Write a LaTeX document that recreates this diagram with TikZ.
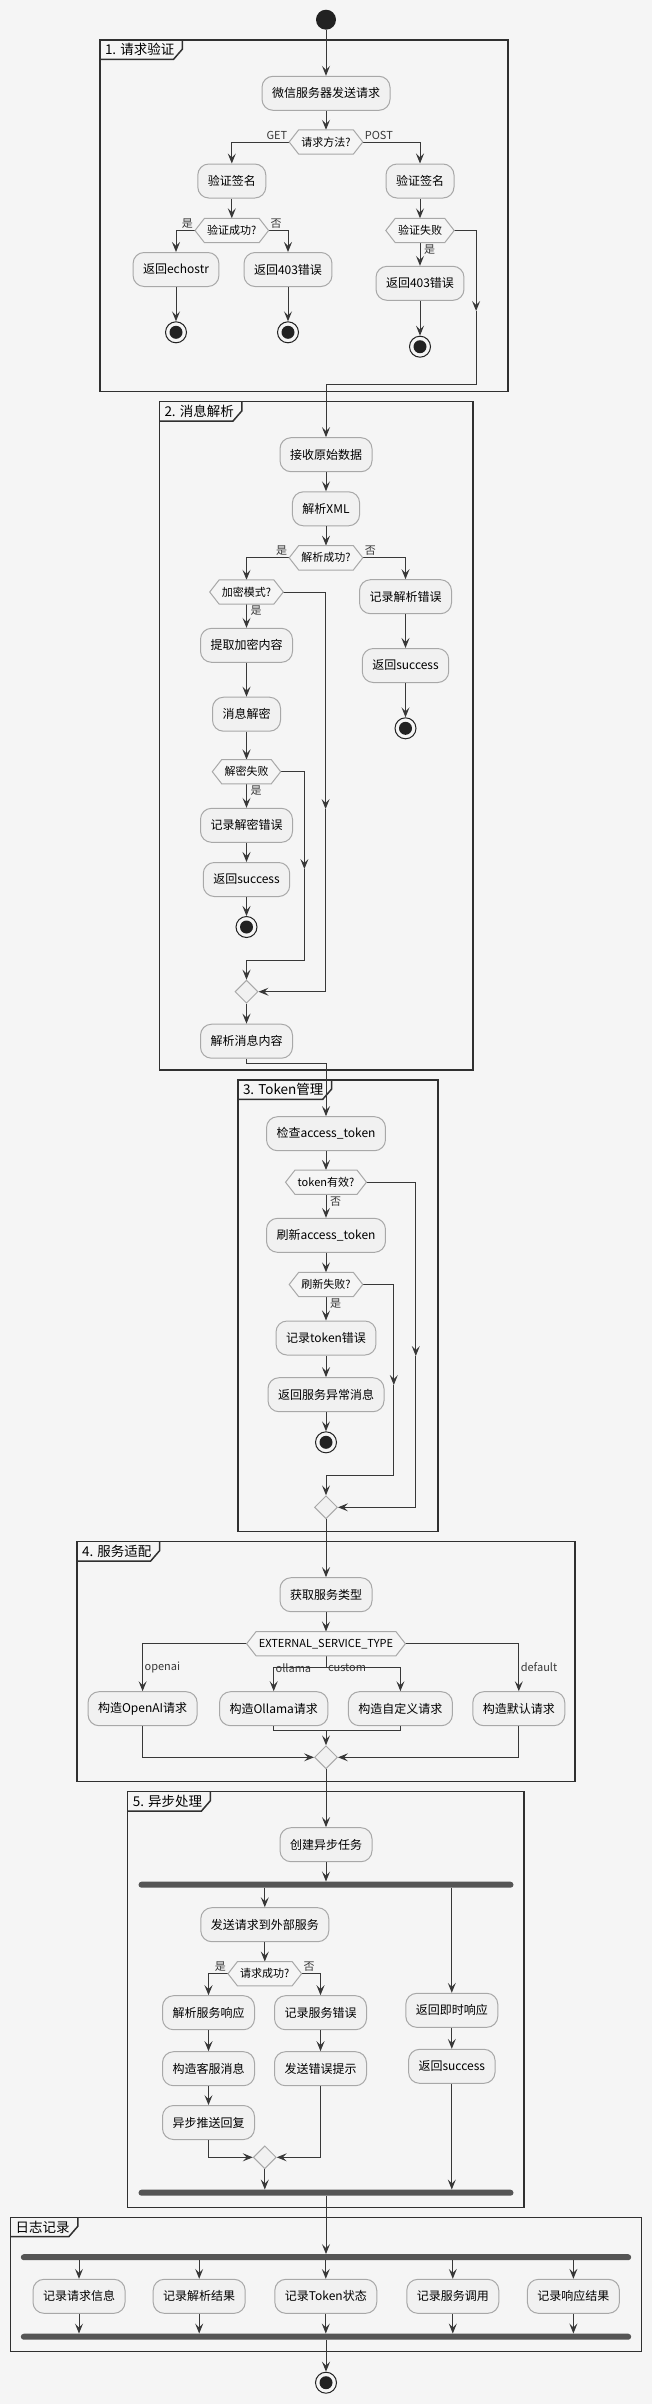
\documentclass[tikz,border=0pt]{standalone}
\usepackage{fontspec}
\setmainfont{Noto Sans CJK SC}
\usetikzlibrary{arrows.meta,shapes.geometric}
\definecolor{bgc}{HTML}{F5F5F5}
\definecolor{actfill}{HTML}{F1F1F1}
\definecolor{actline}{HTML}{A8A8A8}
\definecolor{lnc}{HTML}{383838}
\definecolor{grpc}{HTML}{303030}
\definecolor{barc}{HTML}{555555}
\definecolor{dotc}{HTML}{222222}
\newcommand{\hexof}[1]{\draw[actline,line width=1pt] (#1.west) -- ([xshift=9.5pt]#1.north west) -- ([xshift=-9.5pt]#1.north east) -- (#1.east) -- ([xshift=-9.5pt]#1.south east) -- ([xshift=9.5pt]#1.south west) -- cycle;}
\newcommand{\grpbox}[6]{%
  \draw[grpframe] (#2,#3) rectangle (#4,#5);
  \node[grptitle] (#1) at (#2,#3) {#6};
  \draw[grpframe] (#1.south west) -- ([xshift=-6pt]#1.south east) -- ([xshift=3pt,yshift=-9pt]#1.north east) -- ([xshift=3pt]#1.north east);}

\begin{document}
\begin{tikzpicture}[x=1pt,y=-1pt,
  >={Stealth[length=10pt,width=8pt,inset=4pt]},
  act/.style={draw=actline, fill=actfill, line width=1pt, rounded corners=11pt, minimum height=34pt, inner xsep=10pt, font=\fontsize{12}{14}\selectfont},
  hexa/.style={minimum height=24pt, inner xsep=12pt, inner ysep=0pt, font=\fontsize{11}{13}\selectfont},
  merge/.style={diamond, draw=actline, fill=actfill, line width=1pt, minimum width=23pt, minimum height=23pt, inner sep=0pt},
  startdot/.style={circle, fill=dotc, minimum size=20pt, inner sep=0pt},
  enddot/.style={circle, draw=dotc, fill=bgc, line width=1pt, minimum size=21pt, inner sep=0pt, path picture={\fill[dotc] (path picture bounding box.center) circle (6.5pt);}},
  bar/.style={fill=barc, rounded corners=3pt, minimum height=6pt, inner sep=0pt},
  grpframe/.style={draw=grpc, line width=1.5pt},
  grptitle/.style={anchor=north west, inner xsep=5pt, inner ysep=0pt, minimum height=19pt, font=\fontsize{13.5}{15}\selectfont},
  lbl/.style={font=\fontsize{11}{13}\selectfont, inner sep=1.5pt},
  conn/.style={color=lnc, line width=1pt}]

  \fill[bgc] (0,0) rectangle (652,2404);
  \useasboundingbox (0,0) rectangle (652,2404);

  \grpbox{g1}{99.8}{40}{508.1}{391.7}{1. 请求验证}
  \grpbox{g2}{159.3}{401.7}{473.2}{1070}{2. 消息解析}
  \grpbox{g3}{237.8}{1080}{437.9}{1531.7}{3. Token管理}
  \grpbox{g4}{76.9}{1541.7}{575.1}{1781.7}{4. 服务适配}
  \grpbox{g5}{127.7}{1791.7}{523.9}{2207.3}{5. 异步处理}
  \grpbox{g6}{10.4}{2217.3}{641.6}{2351.7}{日志记录}

  % 1
  \node[startdot] (start) at (326,19.7) {};
  \node[act] (a1) at (326,93.3) {微信服务器发送请求};
  \node[hexa] (d1) at (326,142) {请求方法?};
  \node[act] (a2) at (231.8,181) {验证签名};
  \node[act] (a3) at (420,181) {验证签名};
  \node[hexa] (d2) at (231.8,230.5) {验证成功?};
  \node[act] (a4) at (176,269.5) {返回echostr};
  \node[act] (a5) at (288,269.5) {返回403错误};
  \node[enddot] (e1) at (176,332.3) {};
  \node[enddot] (e2) at (288,332.3) {};
  \node[hexa] (d3) at (420,230.5) {验证失败};
  \node[act] (a6) at (420,283.3) {返回403错误};
  \node[enddot] (e3) at (420,346.7) {};
  \coordinate (k1) at (476.1,311);
  \coordinate (c1) at (476.1,384.3);

  \path[conn,->] (start) edge (a1) (a1) edge (d1) (a2) edge (d2) (a3) edge (d3)
    (a4) edge (e1) (a5) edge (e2) (a6) edge (e3);
  \draw[conn,->] (d1.west) node[lbl,above left] {GET} -| (a2.north);
  \draw[conn,->] (d1.east) node[lbl,above right] {POST} -| (a3.north);
  \draw[conn,->] (d2.west) node[lbl,above left] {是} -| (a4.north);
  \draw[conn,->] (d2.east) node[lbl,above right] {否} -| (a5.north);
  \draw[conn,->] (d3.south) node[lbl,anchor=north west,xshift=2pt] {是} -- (a6.north);
  \draw[conn,->] (d3.east) -| (k1);

  % 2
  \node[act] (a7) at (326,454.7) {接收原始数据};
  \node[act] (a8) at (326,508.8) {解析XML};
  \node[hexa] (d4) at (326,557.8) {解析成功?};
  \node[hexa] (d5) at (246.5,592) {加密模式?};
  \node[act] (a9) at (405.5,596.7) {记录解析错误};
  \node[act] (a10) at (405.5,665.5) {返回success};
  \node[enddot] (e4) at (405.5,728.3) {};
  \node[act] (a11) at (246.5,645.3) {提取加密内容};
  \node[act] (a12) at (246.5,714.2) {消息解密};
  \node[hexa] (d6) at (246.5,771.7) {解密失败};
  \node[act] (a13) at (246.5,825.3) {记录解密错误};
  \node[act] (a14) at (246.5,879.5) {返回success};
  \node[enddot] (e5) at (246.5,927) {};
  \node[merge] (m1) at (246.5,991.7) {};
  \node[act] (a15) at (246.5,1041.2) {解析消息内容};
  \coordinate (k2) at (325.6,809);
  \coordinate (k3) at (304.4,869);
  \coordinate (c2) at (304.4,960);

  \draw[conn,->] (k1) -- (c1) -| (a7.north);
  \path[conn,->] (a7) edge (a8) (a8) edge (d4) (a9) edge (a10) (a10) edge (e4)
    (a11) edge (a12) (a12) edge (d6) (a13) edge (a14) (a14) edge (e5) (m1) edge (a15);
  \draw[conn,->] (d4.west) node[lbl,above left] {是} -| (d5.north);
  \draw[conn,->] (d4.east) node[lbl,above right] {否} -| (a9.north);
  \draw[conn,->] (d5.south) node[lbl,anchor=north west,xshift=2pt] {是} -- (a11.north);
  \draw[conn,->] (d6.south) node[lbl,anchor=north west,xshift=2pt] {是} -- (a13.north);
  \draw[conn,->] (d5.east) -| (k2);
  \draw[conn,->] (k2) |- (m1.east);
  \draw[conn,->] (d6.east) -| (k3);
  \draw[conn,->] (k3) -- (c2) -| (m1.north);

  % 3
  \node[act] (a16) at (326,1133.7) {检查access\_token};
  \node[hexa] (d7) at (326,1182.2) {token有效?};
  \node[act] (a17) at (326,1235.3) {刷新access\_token};
  \node[hexa] (d8) at (326,1284.5) {刷新失败?};
  \node[act] (a18) at (326,1338) {记录token错误};
  \node[act] (a19) at (326,1394.7) {返回服务异常消息};
  \node[enddot] (e6) at (326,1442.3) {};
  \node[merge] (m2) at (326,1507.3) {};
  \coordinate (k4) at (415.8,1356);
  \coordinate (k5) at (393.8,1385);
  \coordinate (c3) at (393.8,1475);

  \draw[conn,->] (a15.south) -- ++(0,4.4) -| (a16.north);
  \path[conn,->] (a16) edge (d7) (a17) edge (d8) (a18) edge (a19) (a19) edge (e6);
  \draw[conn,->] (d7.south) node[lbl,anchor=north west,xshift=2pt] {否} -- (a17.north);
  \draw[conn,->] (d8.south) node[lbl,anchor=north west,xshift=2pt] {是} -- (a18.north);
  \draw[conn,->] (d7.east) -| (k4);
  \draw[conn,->] (k4) |- (m2.east);
  \draw[conn,->] (d8.east) -| (k5);
  \draw[conn,->] (k5) -- (c3) -| (m2.north);

  % 4
  \node[act] (a20) at (326,1594.7) {获取服务类型};
  \node[hexa] (d9) at (326,1643.7) {EXTERNAL\_SERVICE\_TYPE};
  \node[act] (a21) at (142.6,1708.7) {构造OpenAI请求};
  \node[act] (a22) at (273.7,1708.7) {构造Ollama请求};
  \node[act] (a23) at (400.4,1708.7) {构造自定义请求};
  \node[act] (a24) at (518.8,1708.7) {构造默认请求};
  \node[merge] (m3) at (326,1757.3) {};
  \coordinate (c4) at (326,1667.7);
  \coordinate (c5) at (326,1730);

  \path[conn,->] (m2) edge (a20) (a20) edge (d9);
  \draw[conn,->] (d9.west) -| node[lbl,pos=0.75,anchor=west] {openai} (a21.north);
  \draw[conn,->] (d9.east) -| node[lbl,pos=0.75,anchor=west] {default} (a24.north);
  \draw[conn] (d9.south) -- (c4);
  \draw[conn,->] (c4) -| node[lbl,pos=0.5,anchor=west] {ollama} (a22.north);
  \draw[conn,->] (c4) node[lbl,anchor=west] {custom} -| (a23.north);
  \draw[conn] (a22.south) |- (c5) -| (a23.south);
  \draw[conn,->] (c5) -- (m3.north);
  \draw[conn,->] (a21.south) |- (m3.west);
  \draw[conn,->] (a24.south) |- (m3.east);

  % 5
  \node[act] (a25) at (326,1844.7) {创建异步任务};
  \node[bar,minimum width=375pt] (f1) at (326,1884.7) {};
  \node[act] (a26) at (264.8,1924.7) {发送请求到外部服务};
  \node[hexa] (d10) at (264.8,1973.7) {请求成功?};
  \node[act] (a27) at (208.5,2012.7) {解析服务响应};
  \node[act] (a28) at (320.5,2012.7) {记录服务错误};
  \node[act] (a29) at (208.5,2068.7) {构造客服消息};
  \node[act] (a30) at (320.5,2068.7) {发送错误提示};
  \node[act] (a31) at (208.5,2122.5) {异步推送回复};
  \node[merge] (m4) at (264.8,2157.3) {};
  \node[act] (a32) at (451.8,2010.3) {返回即时响应};
  \node[act] (a33) at (451.8,2066.3) {返回success};
  \node[bar,minimum width=375pt] (f2) at (326,2192.7) {};

  \path[conn,->] (m3) edge (a25) (a25) edge (f1) (a26) edge (d10) (a27) edge (a29)
    (a29) edge (a31) (a28) edge (a30) (a32) edge (a33);
  \draw[conn,->] (a26.north |- f1.south) -- (a26.north);
  \draw[conn,->] (a32.north |- f1.south) -- (a32.north);
  \draw[conn,->] (d10.west) node[lbl,above left] {是} -| (a27.north);
  \draw[conn,->] (d10.east) node[lbl,above right] {否} -| (a28.north);
  \draw[conn,->] (a31.south) |- (m4.west);
  \draw[conn,->] (a30.south) |- (m4.east);
  \draw[conn,->] (m4.south) -- (m4.south |- f2.north);
  \draw[conn,->] (a33.south) -- (a33.south |- f2.north);

  % log
  \node[bar,minimum width=610.4pt] (f3) at (326,2257.2) {};
  \node[bar,minimum width=610.4pt] (f4) at (326,2336.7) {};
  \node[enddot] (e7) at (326,2382.7) {};
  \foreach \x/\t [count=\i] in {79/记录请求信息,199.2/记录解析结果,325.8/记录Token状态,452.8/记录服务调用,573.4/记录响应结果}{
    \node[act] (b\i) at (\x,2296.3) {\t};
    \draw[conn,->] (b\i.north |- f3.south) -- (b\i.north);
    \draw[conn,->] (b\i.south) -- (b\i.south |- f4.north);
  }
  \path[conn,->] (f2) edge (f3) (f4) edge (e7);

  \foreach \i in {1,...,10} {\hexof{d\i}}
\end{tikzpicture}
\end{document}
